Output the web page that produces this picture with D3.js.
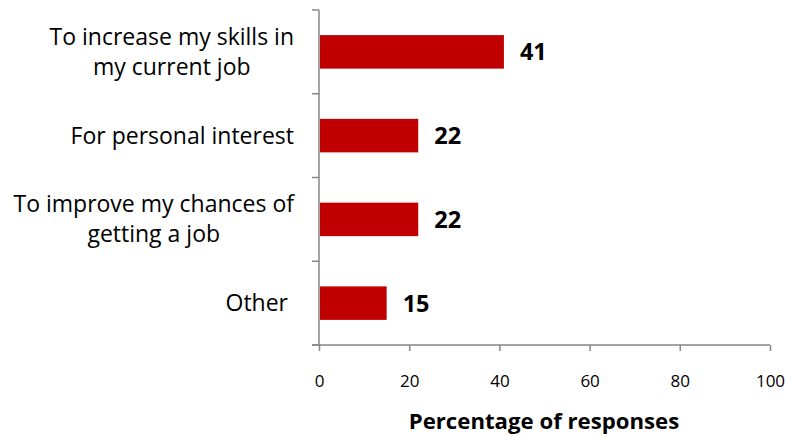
<!DOCTYPE html>
<html>
<head>
<meta charset="utf-8">
<script src="https://cdn.jsdelivr.net/npm/d3@7"></script>
<style>
  html, body { margin: 0; padding: 0; background: #fff; }
  svg { display: block; }
  text { font-family: "Open Sans", Lato, sans-serif; fill: #000; }
</style>
</head>
<body>
<svg id="chart" width="785" height="436"></svg>
<script>
// Reasons for taking the course
const categories = [
  ["To increase my skills in", "my current job"],
  ["For personal interest"],
  ["To improve my chances of", "getting a job"],
  ["Other "]
];
const values = [41, 22, 22, 15];
const xTicks = [0, 20, 40, 60, 80, 100];
const xTitle = "Percentage of responses";

(function draw() {
  const svg = d3.select("#chart");
  const plotLeft = 319, plotRight = 770, plotTop = 10, plotBottom = 345;
  const axisColor = "#868686";
  const barColor = "#C00000";

  const x = d3.scaleLinear().domain([0, 100]).range([plotLeft, plotRight]);
  const y = d3.scaleBand().domain(d3.range(categories.length))
    .range([plotTop, plotBottom]).paddingInner(0.6).paddingOuter(0.3);

  // Category tick marks between bands
  const step = (plotBottom - plotTop) / categories.length;
  const yTickPos = d3.range(categories.length + 1).map(i => plotTop + i * step);
  svg.append("g").selectAll("line").data(yTickPos).join("line")
    .attr("x1", plotLeft - 7).attr("x2", plotLeft)
    .attr("y1", d => d).attr("y2", d => d)
    .attr("stroke", axisColor).attr("stroke-width", 1.5);

  // Bottom axis
  const xAxis = d3.axisBottom(x).tickValues(xTicks).tickSize(6).tickPadding(24);
  const gx = svg.append("g").attr("transform", `translate(0,${plotBottom})`).call(xAxis);
  gx.select(".domain").attr("stroke", axisColor).attr("stroke-width", 1.5)
    .attr("d", `M${plotLeft - 7},0H${plotRight}`);
  gx.selectAll(".tick line").attr("stroke", axisColor).attr("stroke-width", 1.5);
  gx.selectAll(".tick text").attr("font-family", "'Open Sans', sans-serif")
    .attr("font-size", 17).attr("fill", "#000");

  // Vertical axis line
  svg.append("line").attr("x1", plotLeft).attr("x2", plotLeft)
    .attr("y1", plotTop).attr("y2", plotBottom)
    .attr("stroke", axisColor).attr("stroke-width", 1.5);

  // Bars
  svg.append("g").selectAll("rect").data(values).join("rect")
    .attr("x", x(0) + 1)
    .attr("y", (d, i) => y(i))
    .attr("width", d => x(d) - x(0) - 1)
    .attr("height", y.bandwidth())
    .attr("fill", barColor);

  // Value labels
  svg.append("g").selectAll("text").data(values).join("text")
    .attr("x", d => x(d) + 16)
    .attr("y", (d, i) => y(i) + y.bandwidth() / 2)
    .attr("dy", "0.36em")
    .attr("font-size", 23.5).attr("font-weight", "bold")
    .text(d => d);

  // Category labels: lines centered within a right-aligned block
  const labelRight = 294, lineH = 30;
  categories.forEach((lines, i) => {
    const g = svg.append("g");
    const cy = y(i) + y.bandwidth() / 2;
    const texts = lines.map((t, j) => g.append("text")
      .attr("font-size", 23)
      .attr("text-anchor", "middle")
      .attr("y", cy + (j - (lines.length - 1) / 2) * lineH)
      .attr("dy", "0.35em")
      .style("white-space", "pre")
      .text(t));
    const maxW = d3.max(texts, t => t.node().getComputedTextLength());
    texts.forEach(t => t.attr("x", labelRight - maxW / 2));
  });

  // Axis title
  svg.append("text")
    .attr("x", 544).attr("y", 421)
    .attr("text-anchor", "middle").attr("dy", "0.35em")
    .attr("font-size", 22.2).attr("font-weight", "bold")
    .text(xTitle);
})();
</script>
</body>
</html>
